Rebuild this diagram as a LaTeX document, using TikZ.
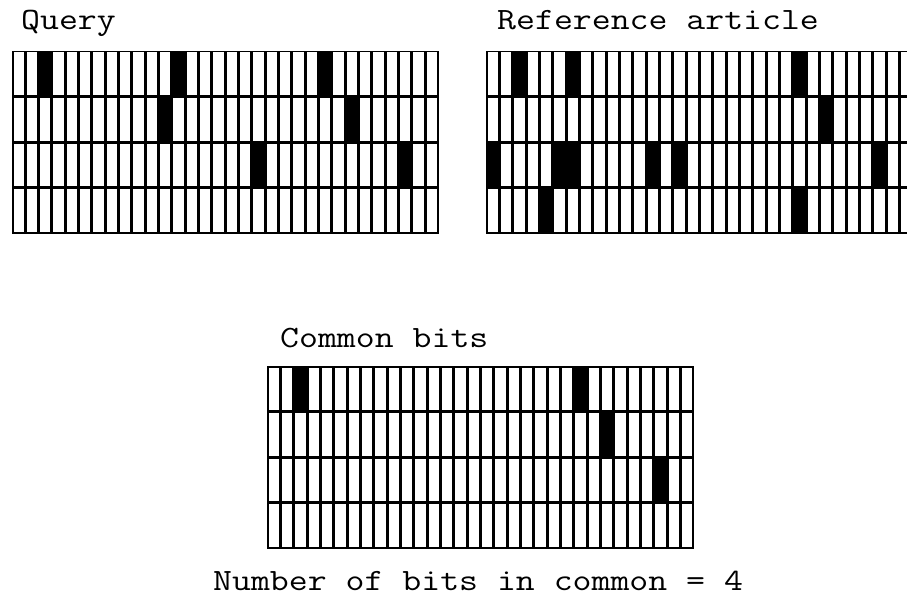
\documentclass[tikz,border=0pt]{standalone}
\tikzset{
  cell/.style={draw=black,line width=1.8pt,fill=white},
  bitcell/.style={draw=black,line width=1.8pt,fill=black},
  lbl/.style={anchor=base west,inner sep=0pt,xscale=1.185,transform shape,font=\ttfamily\fontsize{31}{36}\selectfont}
}
\newcommand\bitgrid[3]{%
  \foreach \c in {0,...,31}{\foreach \r in {0,...,3}{%
    \draw[cell] ({#1+\c*13.333+0.6},{#2+\r*45.6+0.6}) rectangle ({#1+(\c+1)*13.333-0.6},{#2+(\r+1)*45.6-0.6});}}%
  \foreach \c/\r in {#3}{%
    \draw[bitcell] ({#1+\c*13.333+0.6},{#2+\r*45.6+0.6}) rectangle ({#1+(\c+1)*13.333-0.6},{#2+(\r+1)*45.6-0.6});}%
}
\begin{document}
\begin{tikzpicture}[x=1pt,y=-1pt]
\clip (0,0) rectangle (907,615);
\fill[white] (0,0) rectangle (907,615);
\node[lbl] (query) at (21,30) {Query};
\node[lbl] (ref) at (497,30) {Reference article};
\node[lbl] (common) at (280,347.5) {Common bits};
\node[lbl] (count) at (213,590.5) {Number of bits in common = 4};
\bitgrid{12}{51}{2/0,12/0,23/0,11/1,25/1,18/2,29/2}
\bitgrid{486}{51}{2/0,6/0,23/0,25/1,0/2,5/2,6/2,12/2,14/2,29/2,4/3,23/3}
\bitgrid{267.3}{366}{2/0,23/0,25/1,29/2}
\end{tikzpicture}
\end{document}
